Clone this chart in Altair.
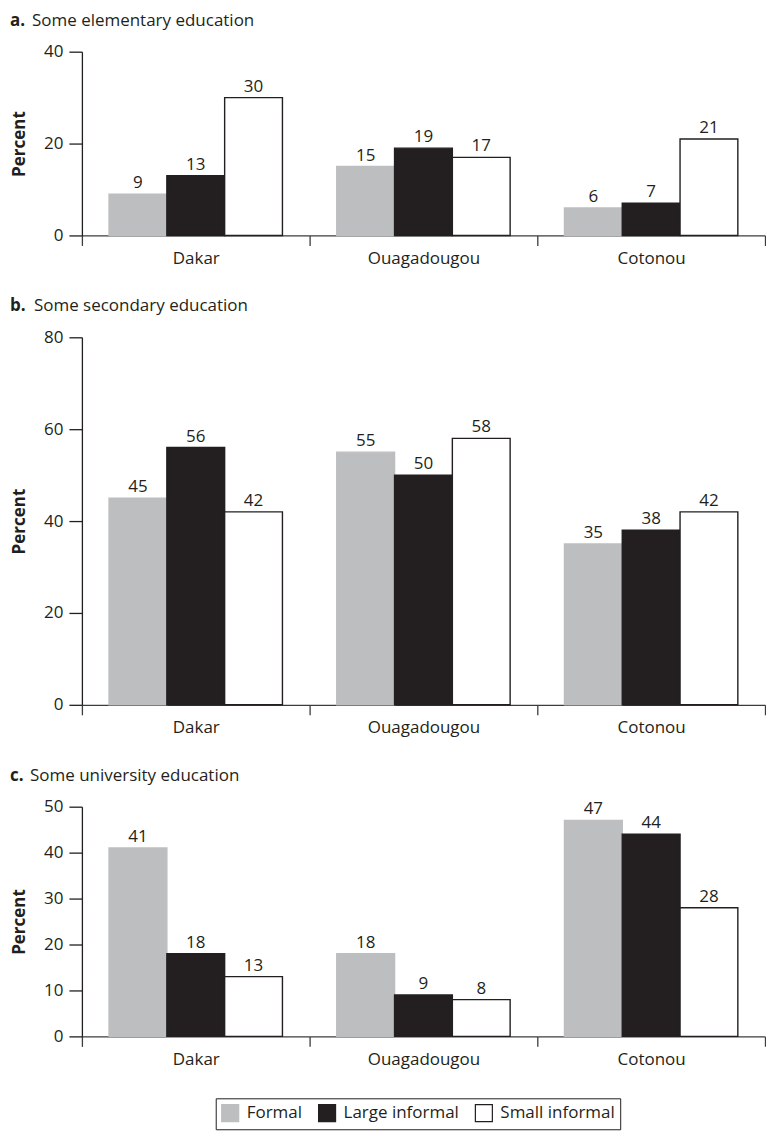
import altair as alt
import pandas as pd

cities = ["Dakar", "Ouagadougou", "Cotonou"]
series = ["Formal", "Large informal", "Small informal"]

# values per city: [Formal, Large informal, Small informal]
elementary = [[9, 13, 30], [15, 19, 17], [6, 7, 21]]
secondary = [[45, 56, 42], [55, 50, 58], [35, 38, 42]]
university = [[41, 18, 13], [18, 9, 8], [47, 44, 28]]

panel_letters = ["a.", "b.", "c."]
panel_titles = ["Some elementary education", "Some secondary education", "Some university education"]
y_max = [40, 80, 50]
y_ticks = [[0, 20, 40], [0, 20, 40, 60, 80], [0, 10, 20, 30, 40, 50]]

fills = ["#bcbec0", "#231f20", "#ffffff"]
strokes = ["#bcbec0", "#231f20", "#231f20"]

FONT = "Open Sans"
FS = 17
INK = "#231f20"
PLOT_W = 684
PX_PER_UNIT = 4.6
LETTER_GAP = [22, 24, 20]

legend = alt.Legend(
    title=None, orient="none", legendX=134, legendY=1048, direction="horizontal",
    symbolType="square", symbolSize=289, symbolStrokeWidth=1.2,
    labelFont=FONT, labelFontSize=FS, labelColor=INK, labelOffset=7,
    columnPadding=13, padding=5, strokeColor=INK,
)


def panel(values, letter, title, ymax, ticks, gap):
    rows = []
    for ci, c in enumerate(cities):
        for si, s in enumerate(series):
            rows.append({"city": c, "series": s, "value": values[ci][si]})
    df = pd.DataFrame(rows)
    base = alt.Chart(df).encode(
        x=alt.X("city:N", sort=cities,
                scale=alt.Scale(paddingInner=0, paddingOuter=0),
                axis=alt.Axis(title=None, labelAngle=0, tickBand="extent", tickSize=10,
                              labelPadding=5, domainColor="#3c3c3c", tickColor="#3c3c3c",
                              domainWidth=1.3, tickWidth=1.3, labelFont=FONT,
                              labelFontSize=FS, labelColor=INK)),
        xOffset=alt.XOffset("series:N", sort=series,
                            scale=alt.Scale(paddingInner=0, paddingOuter=0.47)),
        y=alt.Y("value:Q", scale=alt.Scale(domain=[0, ymax], nice=False),
                axis=alt.Axis(title="Percent", values=ticks, grid=False, tickSize=13,
                              labelPadding=6, domainColor=INK, tickColor=INK,
                              domainWidth=1.3, tickWidth=1.3,
                              labelFont=FONT, labelFontSize=FS, labelColor=INK,
                              titleFont=FONT, titleFontSize=FS, titleFontWeight="bold",
                              titleColor=INK, titlePadding=15)),
    )
    bars = base.mark_bar(strokeWidth=1.4).encode(
        color=alt.Color("series:N", sort=series,
                        scale=alt.Scale(domain=series, range=fills), legend=legend),
        stroke=alt.Stroke("series:N", sort=series,
                          scale=alt.Scale(domain=series, range=strokes), legend=legend),
    )
    labels = base.mark_text(baseline="bottom", dy=-2, font=FONT, fontSize=FS,
                            color=INK).encode(text="value:Q")
    tdf = pd.DataFrame({"letter": [letter], "title": [title]})
    t1 = alt.Chart(tdf).mark_text(align="left", baseline="middle", font=FONT, fontSize=FS,
                                  fontWeight="bold", color=INK).encode(
        x=alt.value(-72), y=alt.value(-31), text="letter:N")
    t2 = alt.Chart(tdf).mark_text(align="left", baseline="middle", font=FONT, fontSize=FS,
                                  color=INK).encode(
        x=alt.value(-72 + gap), y=alt.value(-31), text="title:N")
    return alt.layer(bars, labels, t1, t2).properties(width=PLOT_W, height=ymax * PX_PER_UNIT)


data_sets = [elementary, secondary, university]
panels = [panel(data_sets[i], panel_letters[i], panel_titles[i], y_max[i], y_ticks[i], LETTER_GAP[i])
          for i in range(3)]

chart = alt.vconcat(*panels, spacing=31).resolve_scale(
    y="independent", color="shared", stroke="shared"
).properties(
    padding={"left": 2, "top": 3, "right": 0, "bottom": 0}
).configure_view(strokeWidth=0).configure_legend(strokeWidth=1)

chart.save("out.html", embed_options={"renderer": "svg", "actions": False})
